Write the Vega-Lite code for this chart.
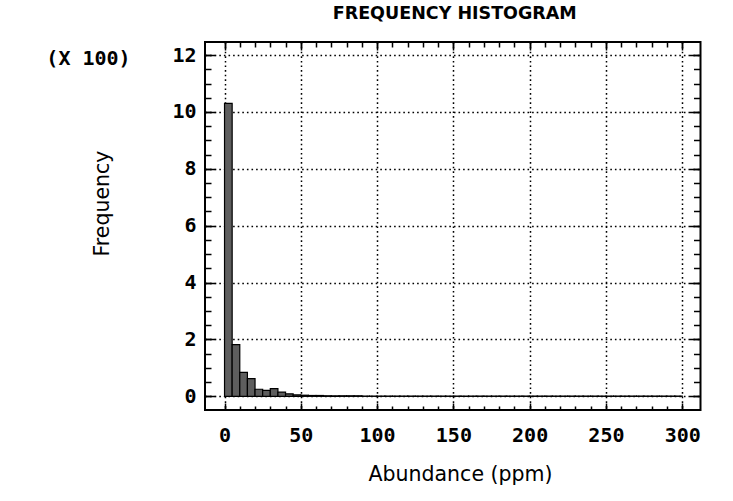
{
  "$schema": "https://vega.github.io/schema/vega-lite/v6.json",
  "autosize": {"type": "none"},
  "width": 495.5,
  "height": 368,
  "padding": {"left": 205, "top": 42, "right": 32.5, "bottom": 91},
  "background": "white",
  "title": {
    "text": "FREQUENCY HISTOGRAM",
    "font": "DejaVu Sans",
    "fontSize": 17.5,
    "fontWeight": "bold",
    "color": "black",
    "anchor": "middle",
    "frame": "group",
    "baseline": "alphabetic",
    "offset": 5,
    "dx": 2
  },
  "config": {
    "view": {"stroke": "black", "strokeWidth": 2},
    "axis": {
      "labelFont": "DejaVu Sans Mono",
      "labelFontWeight": "bold",
      "labelFontSize": 20,
      "labelColor": "black",
      "domain": false,
      "tickColor": "black",
      "tickWidth": 1.5,
      "gridColor": "black",
      "gridDash": [1.6, 3],
      "gridWidth": 1.5,
      "gridOpacity": 1
    }
  },
  "data": {
    "values": [
      {"start": 0, "end": 5, "count": 1030},
      {"start": 5, "end": 10, "count": 182},
      {"start": 10, "end": 15, "count": 84},
      {"start": 15, "end": 20, "count": 62},
      {"start": 20, "end": 25, "count": 25},
      {"start": 25, "end": 30, "count": 21},
      {"start": 30, "end": 35, "count": 27},
      {"start": 35, "end": 40, "count": 15},
      {"start": 40, "end": 45, "count": 9},
      {"start": 45, "end": 50, "count": 5},
      {"start": 50, "end": 55, "count": 4},
      {"start": 55, "end": 60, "count": 3},
      {"start": 60, "end": 65, "count": 3},
      {"start": 65, "end": 70, "count": 2},
      {"start": 70, "end": 75, "count": 2},
      {"start": 75, "end": 80, "count": 2},
      {"start": 80, "end": 85, "count": 2},
      {"start": 85, "end": 90, "count": 2},
      {"start": 90, "end": 95, "count": 1},
      {"start": 95, "end": 100, "count": 1},
      {"start": 100, "end": 105, "count": 1},
      {"start": 105, "end": 110, "count": 1},
      {"start": 110, "end": 115, "count": 1},
      {"start": 115, "end": 120, "count": 1},
      {"start": 120, "end": 125, "count": 1},
      {"start": 125, "end": 130, "count": 1},
      {"start": 130, "end": 135, "count": 1},
      {"start": 135, "end": 140, "count": 1},
      {"start": 140, "end": 145, "count": 1},
      {"start": 145, "end": 150, "count": 1},
      {"start": 150, "end": 155, "count": 1},
      {"start": 155, "end": 160, "count": 1},
      {"start": 160, "end": 165, "count": 1},
      {"start": 165, "end": 170, "count": 1},
      {"start": 170, "end": 175, "count": 1},
      {"start": 175, "end": 180, "count": 1},
      {"start": 180, "end": 185, "count": 1},
      {"start": 185, "end": 190, "count": 1},
      {"start": 190, "end": 195, "count": 1},
      {"start": 195, "end": 200, "count": 1},
      {"start": 200, "end": 205, "count": 1},
      {"start": 205, "end": 210, "count": 1},
      {"start": 210, "end": 215, "count": 1},
      {"start": 215, "end": 220, "count": 1},
      {"start": 220, "end": 225, "count": 1},
      {"start": 225, "end": 230, "count": 1},
      {"start": 230, "end": 235, "count": 1},
      {"start": 235, "end": 240, "count": 1},
      {"start": 240, "end": 245, "count": 1},
      {"start": 245, "end": 250, "count": 1},
      {"start": 250, "end": 255, "count": 1},
      {"start": 255, "end": 260, "count": 1},
      {"start": 260, "end": 265, "count": 1},
      {"start": 265, "end": 270, "count": 1},
      {"start": 270, "end": 275, "count": 1},
      {"start": 275, "end": 280, "count": 1},
      {"start": 280, "end": 285, "count": 1},
      {"start": 285, "end": 290, "count": 1},
      {"start": 290, "end": 295, "count": 1},
      {"start": 295, "end": 300, "count": 1}
    ]
  },
  "resolve": {"axis": {"x": "independent", "y": "independent"}},
  "layer": [
    {
      "mark": {"type": "bar", "fill": "#5e5e5e", "stroke": "black", "strokeWidth": 1.2},
      "encoding": {
        "x": {
          "field": "start", "type": "quantitative",
          "scale": {"domain": [-12.8, 312], "nice": false, "zero": false},
          "axis": {
            "orient": "bottom",
            "values": [0, 50, 100, 150, 200, 250, 300],
            "ticks": false,
            "grid": true,
            "labelPadding": 15,
            "labelBaseline": "top",
            "title": "Abundance (ppm)",
            "titleFont": "DejaVu Sans",
            "titleFontSize": 20.5,
            "titleFontWeight": "normal",
            "titleColor": "black",
            "titleX": 255,
            "titleY": 70,
            "titleAlign": "center",
            "titleBaseline": "alphabetic"
          }
        },
        "x2": {"field": "end"},
        "y": {
          "field": "count", "type": "quantitative",
          "scale": {"domain": [-48, 1246], "nice": false, "zero": false},
          "axis": {
            "orient": "left",
            "values": [0, 200, 400, 600, 800, 1000, 1200],
            "labelExpr": "datum.value / 100",
            "ticks": false,
            "grid": true,
            "labelPadding": 9,
            "title": "Frequency",
            "titleFont": "DejaVu Sans",
            "titleFontSize": 20.5,
            "titleFontWeight": "normal",
            "titleColor": "black",
            "titleAngle": -90,
            "titleX": -103,
            "titleY": 161,
            "titleAlign": "center",
            "titleBaseline": "middle"
          }
        },
        "y2": {"datum": 0}
      }
    },
    {
      "mark": {"type": "point", "opacity": 0},
      "encoding": {
        "x": {
          "field": "start", "type": "quantitative",
          "scale": {"domain": [-12.8, 312], "nice": false, "zero": false},
          "axis": {"orient": "bottom", "values": [0, 50, 100, 150, 200, 250, 300], "labels": false, "grid": false, "tickSize": -7, "title": null}
        },
        "y": {
          "field": "count", "type": "quantitative",
          "scale": {"domain": [-48, 1246], "nice": false, "zero": false},
          "axis": {"orient": "left", "values": [0, 200, 400, 600, 800, 1000, 1200], "labels": false, "grid": false, "tickSize": -10, "title": null}
        }
      }
    },
    {
      "mark": {"type": "point", "opacity": 0},
      "encoding": {
        "x": {
          "field": "start", "type": "quantitative",
          "scale": {"domain": [-12.8, 312], "nice": false, "zero": false},
          "axis": {"orient": "bottom", "values": [0, 10, 20, 30, 40, 50, 60, 70, 80, 90, 100, 110, 120, 130, 140, 150, 160, 170, 180, 190, 200, 210, 220, 230, 240, 250, 260, 270, 280, 290, 300], "labels": false, "grid": false, "tickSize": -4, "title": null}
        },
        "y": {
          "field": "count", "type": "quantitative",
          "scale": {"domain": [-48, 1246], "nice": false, "zero": false},
          "axis": {
            "orient": "left",
            "values": [0, 50, 100, 150, 200, 250, 300, 350, 400, 450, 500, 550, 600, 650, 700, 750, 800, 850, 900, 950, 1000, 1050, 1100, 1150, 1200],
            "labels": false, "grid": false, "tickSize": -6,
            "title": "(X 100)",
            "titleFont": "DejaVu Sans Mono",
            "titleFontSize": 20,
            "titleFontWeight": "bold",
            "titleColor": "black",
            "titleAngle": 0,
            "titleX": -117,
            "titleY": 16,
            "titleAlign": "center",
            "titleBaseline": "middle"
          }
        }
      }
    },
    {
      "mark": {"type": "point", "opacity": 0},
      "encoding": {
        "x": {
          "field": "start", "type": "quantitative",
          "scale": {"domain": [-12.8, 312], "nice": false, "zero": false},
          "axis": {"orient": "top", "values": [0, 50, 100, 150, 200, 250, 300], "labels": false, "grid": false, "tickSize": -8, "title": null}
        },
        "y": {
          "field": "count", "type": "quantitative",
          "scale": {"domain": [-48, 1246], "nice": false, "zero": false},
          "axis": {"orient": "right", "values": [0, 200, 400, 600, 800, 1000, 1200], "labels": false, "grid": false, "tickSize": -11, "title": null}
        }
      }
    },
    {
      "mark": {"type": "point", "opacity": 0},
      "encoding": {
        "x": {
          "field": "start", "type": "quantitative",
          "scale": {"domain": [-12.8, 312], "nice": false, "zero": false},
          "axis": {"orient": "top", "values": [0, 10, 20, 30, 40, 50, 60, 70, 80, 90, 100, 110, 120, 130, 140, 150, 160, 170, 180, 190, 200, 210, 220, 230, 240, 250, 260, 270, 280, 290, 300], "labels": false, "grid": false, "tickSize": -5, "title": null}
        },
        "y": {
          "field": "count", "type": "quantitative",
          "scale": {"domain": [-48, 1246], "nice": false, "zero": false},
          "axis": {"orient": "right", "values": [0, 50, 100, 150, 200, 250, 300, 350, 400, 450, 500, 550, 600, 650, 700, 750, 800, 850, 900, 950, 1000, 1050, 1100, 1150, 1200], "labels": false, "grid": false, "tickSize": -7, "title": null}
        }
      }
    }
  ]
}
